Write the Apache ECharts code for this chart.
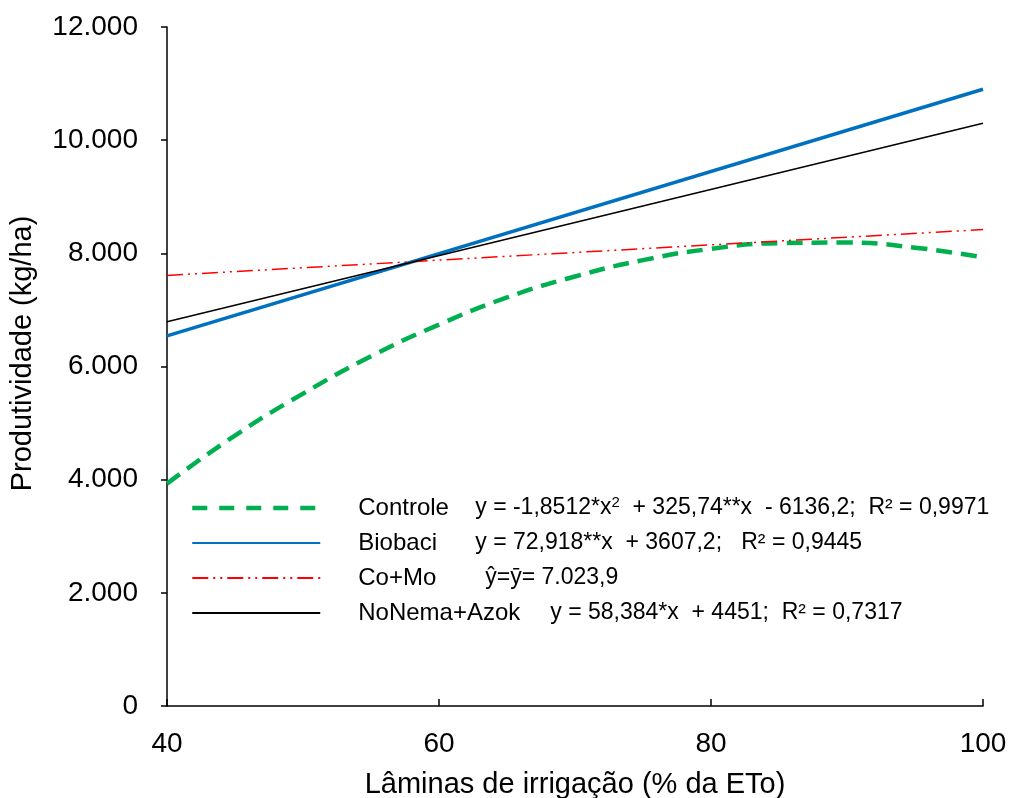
<!DOCTYPE html>
<html lang="pt">
<head>
  <meta charset="UTF-8">
  <title>Produtividade x Lâminas de irrigação</title>
  <script src="https://cdn.jsdelivr.net/npm/echarts@6/dist/echarts.min.js"></script>
  <style>
    html, body { margin: 0; padding: 0; background: #ffffff; }
    #chart { width: 1011px; height: 798px; }
  </style>
</head>
<body>
  <div id="chart"></div>
  <script>
    // values
    var xControle = [40, 45, 50, 55, 60, 65, 70, 75, 80, 85, 90, 95, 100];
    var controle = [3930, 4780, 5520, 6180, 6740, 7220, 7590, 7880, 8080, 8180, 8190, 8100, 7930];
    var xLine = [40, 100];
    var biobaci = [6540, 10900];
    var coMo = [7610, 8420];
    var noNema = [6790, 10300];
    var yTicks = [0, 2000, 4000, 6000, 8000, 10000, 12000];

    function pairs(xs, ys) {
      return xs.map(function (x, i) { return [x, ys[i]]; });
    }
    function fmtThousands(v) {
      return String(v).replace(/\B(?=(\d{3})+(?!\d))/g, '.');
    }

    var chart = echarts.init(document.getElementById('chart'));
    var font = '"Liberation Sans", Arial, sans-serif';

    var option = {
      animation: false,
      textStyle: { fontFamily: font },
      grid: { left: 167, right: 28, top: 27, bottom: 92, outerBoundsMode: 'none' },
      xAxis: {
        type: 'value',
        min: 40,
        max: 100,
        interval: 20,
        name: 'Lâminas de irrigação (% da ETo)',
        nameLocation: 'middle',
        nameGap: 64,
        nameTextStyle: { fontSize: 29, color: '#000', fontFamily: font },
        axisLine: { lineStyle: { color: '#000', width: 1.5 } },
        axisTick: { show: true, inside: true, length: 7, lineStyle: { color: '#000', width: 1.5 } },
        axisLabel: { color: '#000', fontSize: 28, margin: 24, fontFamily: font },
        splitLine: { show: false }
      },
      yAxis: {
        type: 'value',
        min: yTicks[0],
        max: yTicks[yTicks.length - 1],
        interval: 2000,
        name: 'Produtividade (kg/ha)',
        nameLocation: 'middle',
        nameGap: 130,
        nameTextStyle: { fontSize: 29, color: '#000', fontFamily: font, padding: [0, 0, 0, 26] },
        axisLine: { show: true, lineStyle: { color: '#000', width: 1.5 } },
        axisTick: { show: true, length: 6, lineStyle: { color: '#000', width: 1.5 } },
        axisLabel: { color: '#000', fontSize: 28, margin: 29, fontFamily: font, formatter: fmtThousands },
        splitLine: { show: false }
      },
      legend: {
        orient: 'vertical',
        left: 190,
        top: 495,
        padding: 0,
        itemWidth: 128,
        itemHeight: 20,
        itemGap: 11,
        selectedMode: false,
        itemStyle: { opacity: 0 },
        data: [
          { name: 'Controle', lineStyle: { width: 4.5, type: [15, 12] } },
          { name: 'Biobaci', lineStyle: { width: 2 } },
          { name: 'Co+Mo', lineStyle: { width: 2 } },
          { name: 'NoNema+Azok', lineStyle: { width: 2 } }
        ],
        formatter: function (name) {
          if (name === 'Controle') {
            return '{n|Controle}{e|y = -1,8512*x}{s|2}{e|  + 325,74**x  - 6136,2;  R² = 0,9971}';
          }
          if (name === 'Biobaci') {
            return '{n|Biobaci}{e|y = 72,918**x  + 3607,2;   R² = 0,9445}';
          }
          if (name === 'Co+Mo') {
            return '{c|Co+Mo}{e|ŷ=ȳ= 7.023,9}';
          }
          return '{w|NoNema+Azok}{e|y = 58,384*x  + 4451;  R² = 0,7317}';
        },
        textStyle: {
          color: '#000',
          fontFamily: font,
          fontSize: 23,
          rich: {
            n: { fontSize: 24, width: 117, padding: [0, 0, 0, 33], color: '#000', fontFamily: font },
            c: { fontSize: 24, width: 127, padding: [0, 0, 0, 33], color: '#000', fontFamily: font },
            w: { fontSize: 24, width: 192, padding: [0, 0, 0, 33], color: '#000', fontFamily: font },
            e: { fontSize: 23, color: '#000', fontFamily: font },
            s: { fontSize: 15, color: '#000', fontFamily: font, padding: [0, 0, 11, 0] }
          }
        }
      },
      series: [
        {
          name: 'Controle',
          type: 'line',
          smooth: true,
          symbol: 'none',
          data: pairs(xControle, controle),
          lineStyle: { color: '#00b050', width: 4.5, type: [16, 9] },
          itemStyle: { color: '#00b050' },
          z: 2
        },
        {
          name: 'Biobaci',
          type: 'line',
          symbol: 'none',
          data: pairs(xLine, biobaci),
          lineStyle: { color: '#0070c0', width: 3.5 },
          itemStyle: { color: '#0070c0' },
          z: 3
        },
        {
          name: 'Co+Mo',
          type: 'line',
          symbol: 'none',
          data: pairs(xLine, coMo),
          lineStyle: { color: '#ff0000', width: 1.5, type: [16, 5, 2, 5, 2, 5] },
          itemStyle: { color: '#ff0000' },
          z: 4
        },
        {
          name: 'NoNema+Azok',
          type: 'line',
          symbol: 'none',
          data: pairs(xLine, noNema),
          lineStyle: { color: '#000000', width: 1.5 },
          itemStyle: { color: '#000000' },
          z: 5
        }
      ]
    };

    chart.setOption(option);
    window.addEventListener('resize', function () { chart.resize(); });
  </script>
</body>
</html>
